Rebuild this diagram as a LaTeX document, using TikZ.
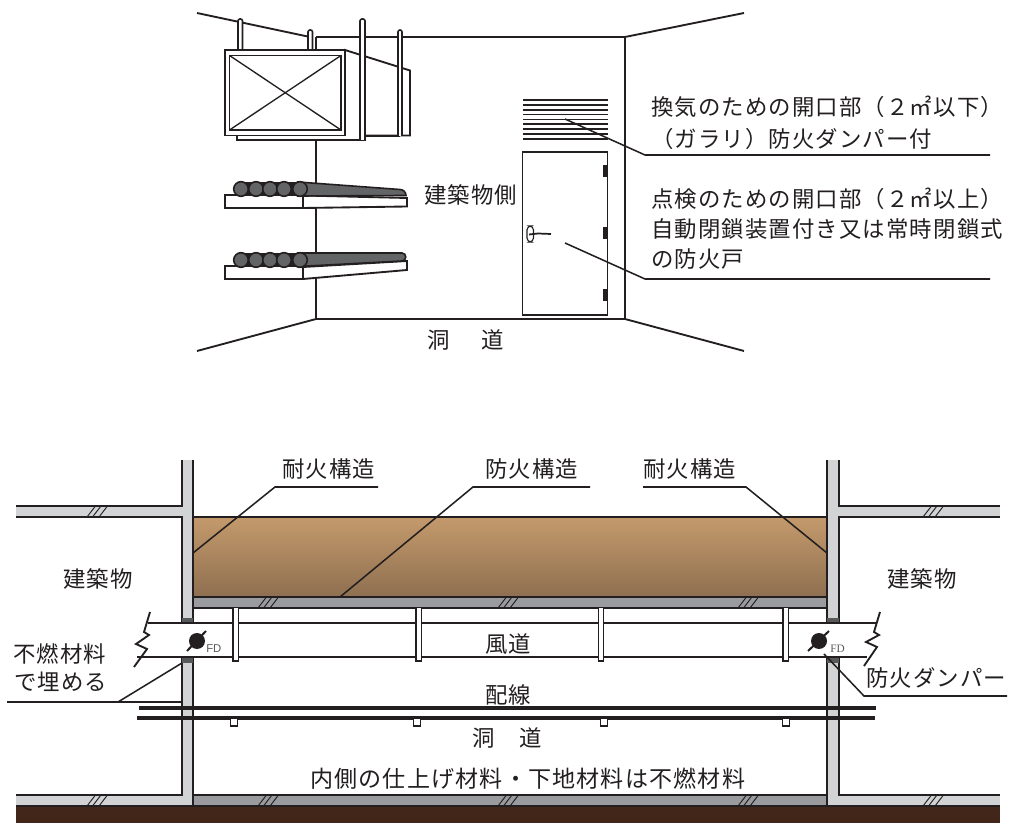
\documentclass[tikz,border=0pt]{standalone}
\usepackage{fontspec}
\setmainfont{Noto Sans CJK JP}[LetterSpace=5]
\newfontfamily\fdsans{Liberation Sans}
\newfontfamily\fdserif{Liberation Serif}
\definecolor{ink}{HTML}{231F20}
\definecolor{wallgray}{HTML}{D1D3D4}
\definecolor{slabgray}{HTML}{999B9E}
\definecolor{plug}{HTML}{58595B}
\definecolor{cable}{HTML}{636466}
\definecolor{earth}{HTML}{42261A}
\definecolor{browntop}{HTML}{C49A6C}
\definecolor{brownbot}{HTML}{8E6F50}
\tikzset{
  ln/.style={draw=ink,line width=1.4pt,line join=miter},
  thinln/.style={draw=ink,line width=.85pt},
  leader/.style={draw=ink,line width=1.15pt},
  lbl/.style={inner sep=0pt,anchor=base west,text=ink,font=\fontsize{16.8}{18}\selectfont},
  widelbl/.style={lbl,font=\fontsize{17.3}{18}\selectfont},
  post/.style={draw=ink,line width=1.2pt,fill=white,rounded corners=1.5pt},
  hanger/.style={draw=ink,line width=1.05pt,fill=white},
  hatchln/.style={draw=ink,line width=.7pt},
  wire/.style={draw=ink,line width=3pt},
  cablefill/.style={draw=ink,line width=1.2pt,fill=cable},
  shelf/.style={draw=ink,line width=1.4pt,fill=white},
  fdlbl/.style={inner sep=0pt,anchor=base west,text=black!65,font=\fontsize{8.5}{9}\selectfont},
  hatches/.pic={\foreach \d in {0,5.5,12}{\draw[hatchln] (\d,5.5)--(\d+8.5,-5.5);}}
}
\begin{document}
\begin{tikzpicture}[x=.75pt,y=-.75pt]
\useasboundingbox (0,0) rectangle (1011,823);
\fill[white] (0,0) rectangle (1011,823);
% ---------- upper figure: room ----------
\coordinate (ceilL) at (316,37);
\coordinate (ceilR) at (625,37);
\coordinate (flrL) at (316,319);
\coordinate (flrR) at (625,319);
\draw[ln] (197,13)--(310,37);
\draw[ln] (ceilL)--(ceilR)--(744,13);
\draw[ln] (ceilR)--(flrR)--(744,351);
\draw[ln] (ceilL)--(flrL)--(flrR);
\draw[ln] (flrL)--(197,351);
% duct unit
\draw[shelf] (345,50)--(410,70.5)--(410,135.5)--(345,135.5)--cycle;
\draw[ink,line width=1.8pt] (345,135.8)--(400,135.8);
\draw[shelf] (237,130)--(237,140)--(365,140)--(365,130);
\draw[post] (238,50)--(238,19)--(242.5,19)--(242.5,50);
\draw[post] (308,50)--(308,30)--(312.5,30)--(312.5,50);
\draw[post] (360,140)--(360,19)--(365,19)--(365,140);
\draw[post] (398,136)--(398,30)--(402,30)--(402,136);
\draw[ln,fill=white] (225,50) rectangle (345,135.5);
\draw[ln,fill=white] (229.5,55.5) rectangle (341,130);
\draw[ln,line width=1pt] (229.5,55.5)--(341,130);
\draw[ln,line width=1pt] (229.5,130)--(341,55.5);
% upper shelf
\draw[shelf] (303,195.5)--(407,198)--(407,206.5)--(303,208)--cycle;
\draw[shelf] (225,195) rectangle (303,208);
\draw[cablefill] (298,182)--(400,189.5) to[out=0,in=90] (406,195.5)--(298,196)--cycle;
\fill[ink] (241,182) rectangle (300,196);
\foreach \cx in {241,256,270,284,300}{\draw[cablefill] (\cx,189) circle (7.3);}
% lower shelf
\draw[shelf] (303,267)--(407,261)--(407,270)--(303,279)--cycle;
\draw[shelf] (225,266) rectangle (303,279);
\draw[cablefill] (298,253)--(402,253) to[out=0,in=0,looseness=1.6] (402,261)--(298,266.5)--cycle;
\fill[ink] (241,253) rectangle (300,267);
\foreach \cx in {241,256,270,284,300}{\draw[cablefill] (\cx,260) circle (7.3);}
% louver
\foreach \ly in {100,105,110,114.7,119.3,124,129,134,139}{\draw[thinln] (523,\ly)--(607.5,\ly);}
% door
\draw[ln,fill=white] (522.5,152) rectangle (607.5,315);
\foreach \hy in {165,227,289}{\fill[ink] (603,\hy) rectangle (607.5,\hy+12.5);}
\draw[thinln,fill=white,rounded corners=3pt] (527,226) rectangle (533.5,242);
\draw[ink,line width=1.3pt] (529,234.5)--(538,233.5)--(551,234);
% leaders upper
\coordinate (ldA0) at (565,119);
\coordinate (ldA1) at (645,155);
\coordinate (ldA2) at (990,155);
\coordinate (ldB0) at (565,243);
\coordinate (ldB1) at (645,279);
\coordinate (ldB2) at (990,279);
\draw[leader] (ldA0)--(ldA1)--(ldA2);
\draw[leader] (ldB0)--(ldB1)--(ldB2);
% texts upper
\node[lbl] (tA) at (651,116) {換気のための開口部（２㎡以下）};
\node[lbl] (tB) at (651,148) {（ガラリ）防火ダンパー付};
\node[lbl] (tC) at (651,208) {点検のための開口部（２㎡以上）};
\node[lbl] (tD) at (651,238) {自動閉鎖装置付き又は常時閉鎖式};
\node[lbl] (tE) at (651,268) {の防火戸};
\node[lbl] (tF) at (424,204) {建築物側};
\node[lbl] (tG) at (427,349) {洞\hspace{24pt}道};
% ---------- lower figure ----------
\fill[earth] (16,806) rectangle (1000,823);
% slabs
\fill[wallgray] (16,506) rectangle (182,517);
\fill[wallgray] (839,506) rectangle (1000,517);
\fill[wallgray] (16,795) rectangle (193,806);
\fill[wallgray] (827,795) rectangle (1000,806);
\fill[slabgray] (193,795) rectangle (827,806);
\fill[slabgray] (193,597) rectangle (827,608);
\fill[wallgray] (182,460) rectangle (193,806);
\fill[wallgray] (827,460) rectangle (839,806);
\shade[top color=browntop,bottom color=brownbot] (193,517) rectangle (827,597);
\draw[ln] (193,517)--(827,517);
\draw[ln] (193,597)--(827,597);
\draw[ln] (193,608)--(827,608);
\draw[ln] (16,506)--(182,506)--(182,460);
\draw[ln] (16,517)--(182,517)--(182,795)--(16,795);
\draw[ln] (193,460)--(193,806);
\draw[ln] (1000,506)--(839,506)--(839,460);
\draw[ln] (1000,517)--(839,517)--(839,795)--(1000,795);
\draw[ln] (827,460)--(827,806);
\draw[ln] (193,795)--(827,795);
\draw[ln] (16,806)--(1000,806);
% hatches
\foreach \hx/\hy in {87/511.5,923/511.5,258/602.5,498/602.5,738/602.5,87/800.5,258/800.5,498/800.5,738/800.5,923/800.5}{
  \pic at (\hx,\hy) {hatches};
}
% duct
\fill[plug] (182,618) rectangle (193,663);
\fill[plug] (827,618) rectangle (839,663);
\fill[white] (148,623)--(144,632)--(136,645)--(137,657)--(867,657)--(879,635)--(877,623)--cycle;
\draw[ln] (148,623)--(877,623);
\draw[ln] (137,657)--(867,657);
\draw[ln] (150,612)--(144,632)--(149,635)--(136,644)--(147,649)--(134,667);
\draw[ln] (880,612)--(874,632)--(879,635)--(866,642)--(877,647)--(864,666);
% hangers
\foreach \hx in {235.5,418.5,601,785.5}{\draw[hanger] (\hx-2.7,608)--(\hx-2.7,661)--(\hx+2.7,661)--(\hx+2.7,608);}
% dampers
\coordinate (dmL) at (197,641);
\coordinate (dmR) at (819,641);
\fill[ink] (dmL) circle (8);
\fill[ink] (dmR) circle (8);
\draw[ink,line width=1.5pt] (187,651)--(206,631);
\draw[ink,line width=1.5pt] (808,651)--(829,631);
\node[fdlbl] (fdA) at (206,652) {\fdsans FD};
\node[fdlbl] (fdB) at (830,652) {\fdserif FD};
% wires
\draw[wire] (139,707.5)--(876,707.5);
\draw[wire] (137,717.5)--(875,717.5);
\foreach \sx in {234,417,604,786}{\draw[hanger] (\sx-3.7,719)--(\sx-3.7,726)--(\sx+3.7,726)--(\sx+3.7,719);}
% leaders lower
\coordinate (ldC0) at (193,553);
\coordinate (ldC1) at (275,487);
\coordinate (ldC2) at (378,487);
\coordinate (ldD0) at (340,597);
\coordinate (ldD1) at (473,487);
\coordinate (ldD2) at (590,487);
\coordinate (ldE0) at (827,553);
\coordinate (ldE1) at (746,487);
\coordinate (ldE2) at (643,487);
\coordinate (ldF0) at (182,663);
\coordinate (ldF1) at (118,702);
\coordinate (ldF2) at (7,702);
\coordinate (ldF3) at (182,702);
\coordinate (ldG0) at (824,654);
\coordinate (ldG1) at (864,696);
\coordinate (ldG2) at (1007,696);
\draw[leader] (ldC0)--(ldC1)--(ldC2);
\draw[leader] (ldD0)--(ldD1)--(ldD2);
\draw[leader] (ldE0)--(ldE1)--(ldE2);
\draw[leader] (ldF0)--(ldF1);
\draw[leader] (ldF2)--(ldF3);
\draw[leader] (ldG0)--(ldG1)--(ldG2);
% texts lower
\node[lbl] (t1) at (282,478) {耐火構造};
\node[lbl] (t2) at (485,478) {防火構造};
\node[lbl] (t3) at (643,478) {耐火構造};
\node[lbl] (t4) at (63,588) {建築物};
\node[lbl] (t5) at (887,588) {建築物};
\node[lbl] (t6) at (13,662) {不燃材料};
\node[lbl] (t7) at (14,690) {で埋める};
\node[lbl] (t8) at (485,652) {風道};
\node[lbl] (t9) at (485,703) {配線};
\node[lbl] (t10) at (472,746) {洞　道};
\node[widelbl] (t11) at (310,787) {内側の仕上げ材料・下地材料は不燃材料};
\node[lbl] (t12) at (866,686) {防火ダンパー};
\end{tikzpicture}
\end{document}
